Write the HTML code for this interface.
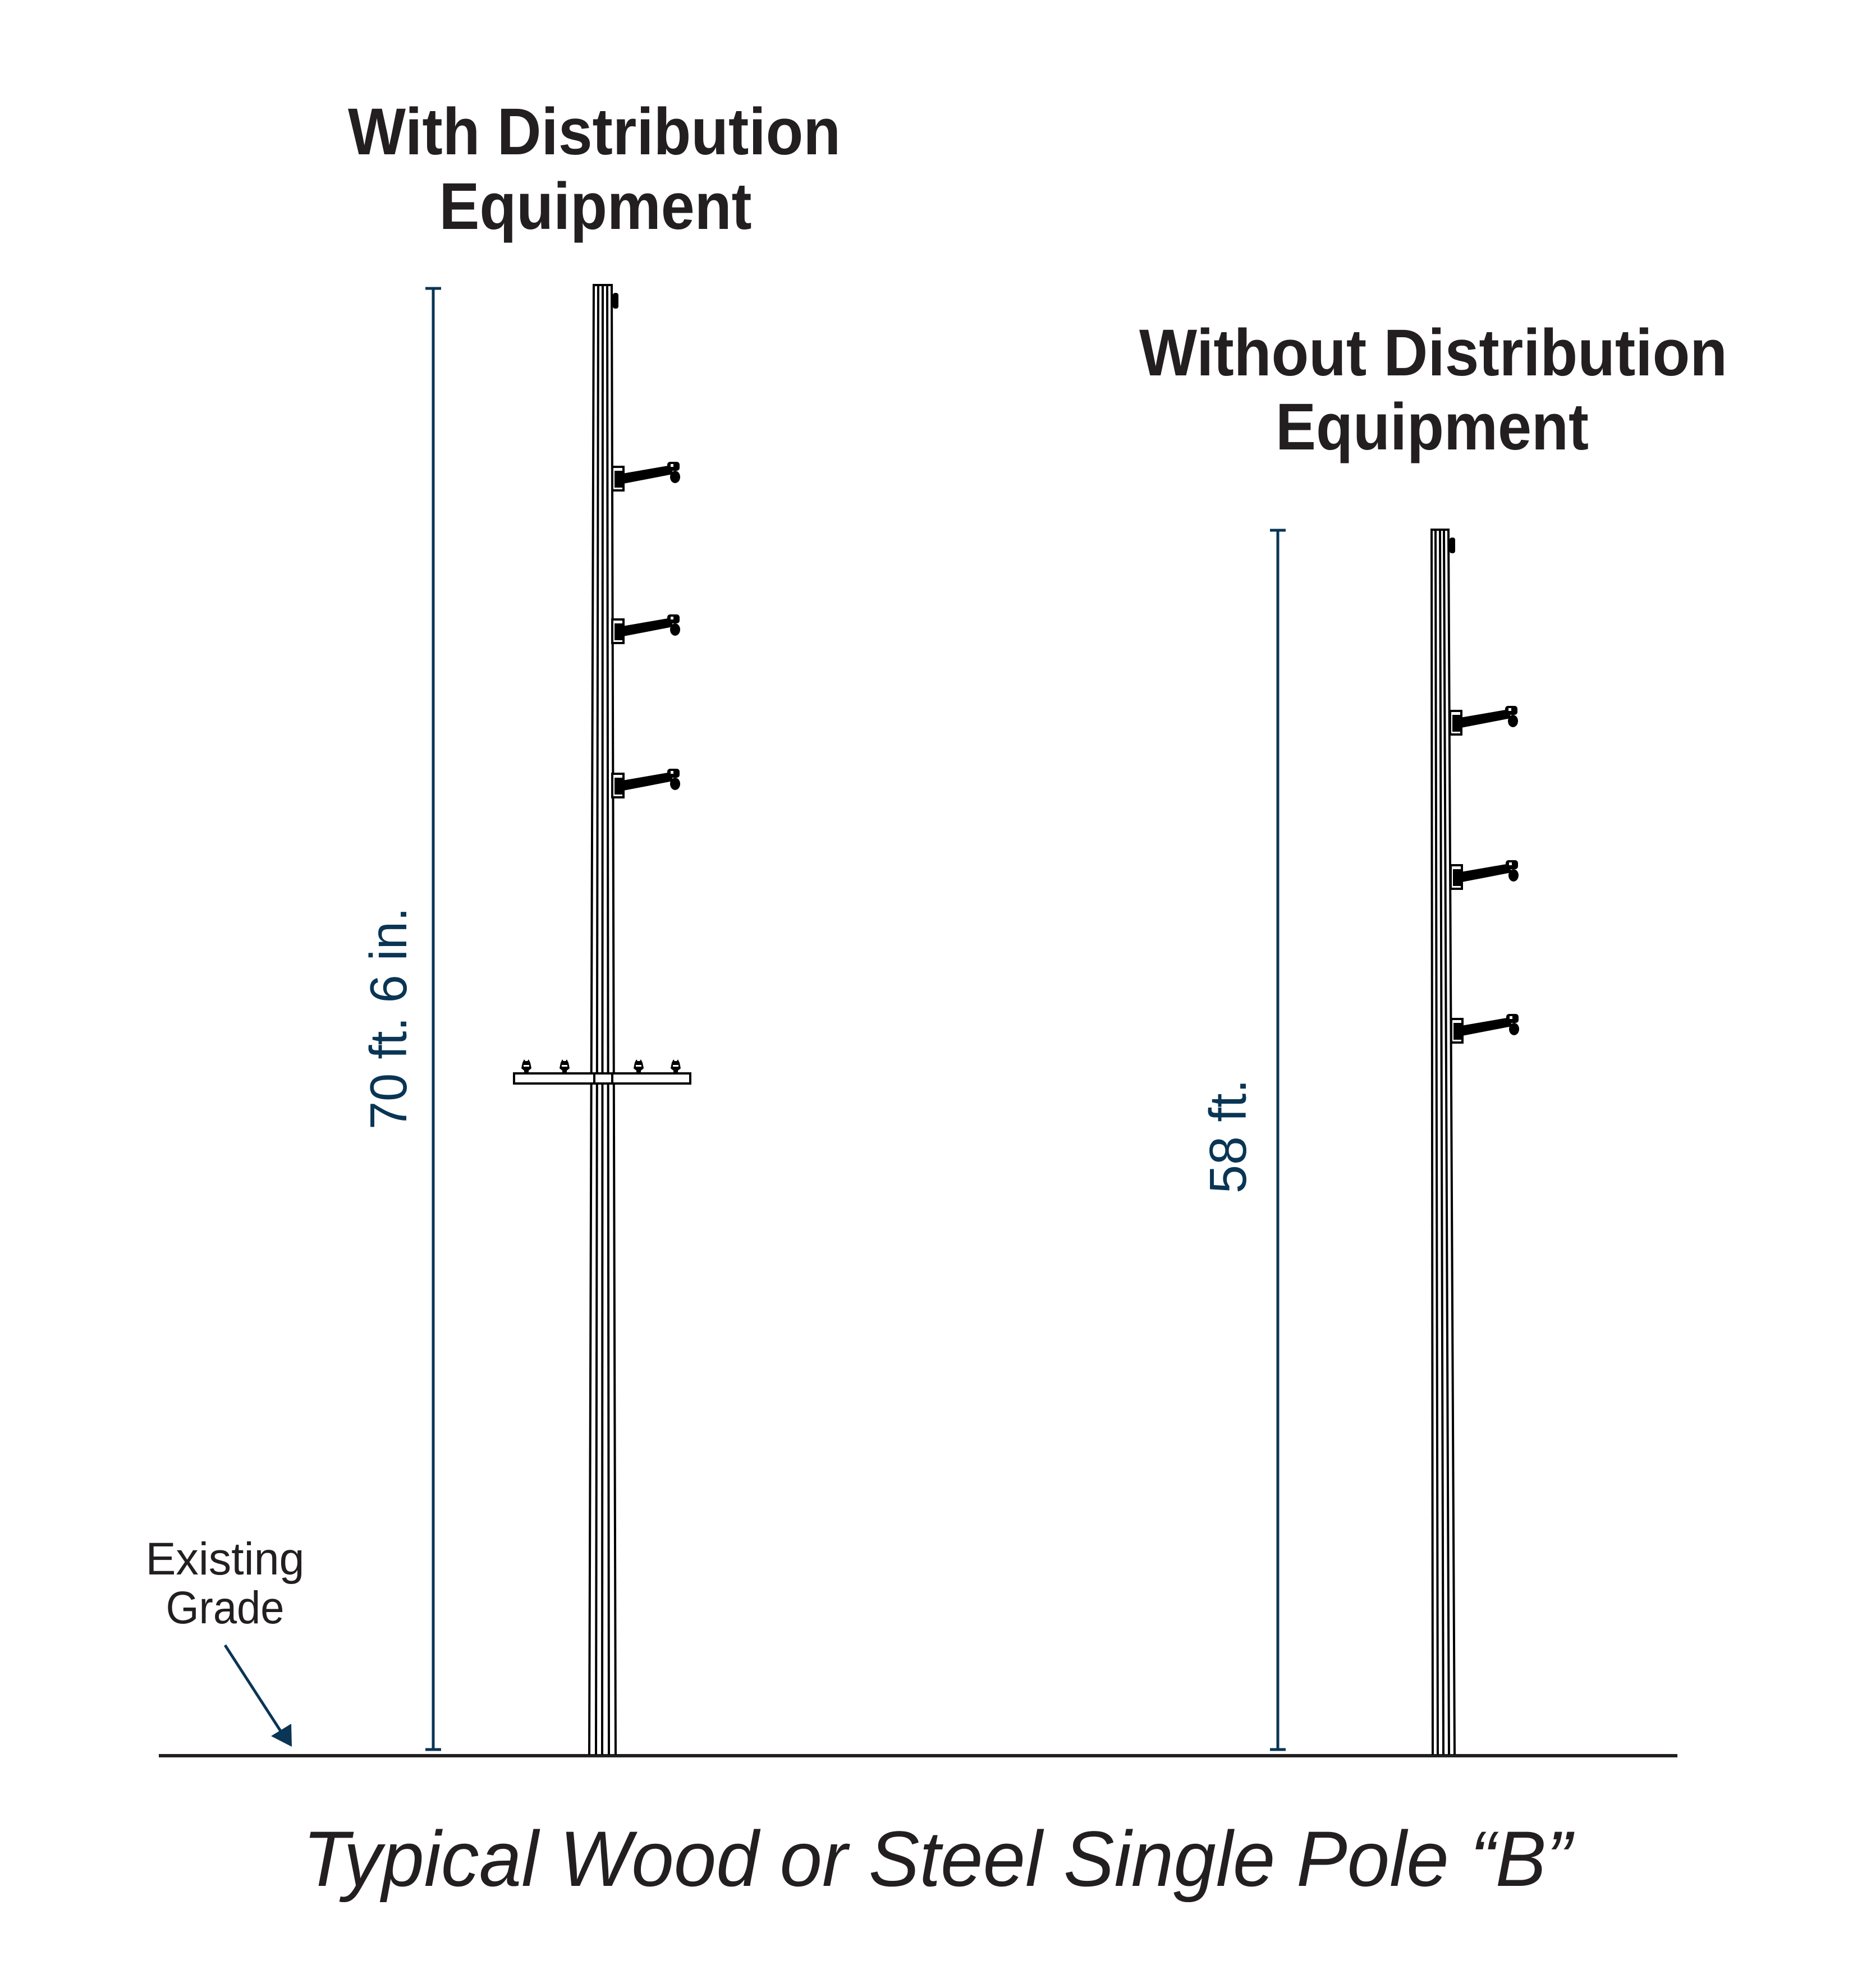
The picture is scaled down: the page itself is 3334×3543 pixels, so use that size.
<!DOCTYPE html>
<html><head><meta charset="utf-8"><style>
html,body{margin:0;padding:0;background:#fff}
svg{display:block}
</style></head><body>
<svg width="3334" height="3543" viewBox="0 0 3334 3543" xmlns="http://www.w3.org/2000/svg">
<defs>
<g id="arm">
  <rect x="0" y="-21" width="20" height="42" fill="#fff" stroke="#000" stroke-width="4"/>
  <rect x="4" y="-14" width="14" height="30" fill="#000"/>
  <polygon points="18,-9 105,-24 108,-8 20,9" fill="#000"/>
  <rect x="98" y="-30" width="22" height="16" rx="5" fill="#000"/>
  <rect x="104" y="-26" width="5" height="5" fill="#fff"/>
  <ellipse cx="112" cy="-3" rx="9" ry="11" fill="#000"/>
</g>
<g id="ins">
  <path d="M-9,0 L-7,-10 L-4,-16 L-2,-13 L2,-13 L4,-16 L7,-10 L9,0 L4,4 L4,7 L10,8 L-10,8 L-4,7 L-4,4 Z" fill="#000"/>
  <rect x="-5" y="-6" width="10" height="3" fill="#fff"/>
</g>
</defs>
<g font-family="'Liberation Sans Narrow','Liberation Sans',sans-serif" font-weight="bold" fill="#231f20" text-anchor="middle">
  <text x="1059" y="275" font-size="118" textLength="878" lengthAdjust="spacingAndGlyphs">With Distribution</text>
  <text x="1061" y="408" font-size="118" textLength="557" lengthAdjust="spacingAndGlyphs">Equipment</text>
  <text x="2554" y="669" font-size="118" textLength="1048" lengthAdjust="spacingAndGlyphs">Without Distribution</text>
  <text x="2552" y="801" font-size="118" textLength="558" lengthAdjust="spacingAndGlyphs">Equipment</text>
</g>
<g font-family="'Liberation Sans',sans-serif" fill="#231f20" text-anchor="middle">
  <text x="401" y="2806" font-size="82" textLength="283" lengthAdjust="spacingAndGlyphs">Existing</text>
  <text x="401" y="2893" font-size="82" textLength="211" lengthAdjust="spacingAndGlyphs">Grade</text>
  <text x="1670" y="3361" font-size="140" font-style="italic" textLength="2261" lengthAdjust="spacingAndGlyphs">Typical Wood or Steel Single Pole “B”</text>
</g>
<g font-family="'Liberation Sans',sans-serif" fill="#0a3554" text-anchor="middle" font-size="93">
  <text transform="translate(724,1815) rotate(-90)" x="0" y="0" textLength="396" lengthAdjust="spacingAndGlyphs">70 ft. 6 in.</text>
  <text transform="translate(2220,2025) rotate(-90)" x="0" y="0" textLength="204" lengthAdjust="spacingAndGlyphs">58 ft.</text>
</g>
<g stroke="#0a3554" stroke-width="5">
  <line x1="772" y1="514" x2="772" y2="3118"/>
  <line x1="758" y1="514" x2="786" y2="514"/>
  <line x1="758" y1="3118" x2="786" y2="3118"/>
  <line x1="2277" y1="945" x2="2277" y2="3118"/>
  <line x1="2263" y1="945" x2="2291" y2="945"/>
  <line x1="2263" y1="3118" x2="2291" y2="3118"/>
  <line x1="401" y1="2932" x2="500" y2="3085"/>
</g>
<polygon points="520,3113 483,3094 519,3072" fill="#0a3554"/>
<rect x="283" y="3126" width="2706" height="6" fill="#231f20"/>
<g stroke="#000" stroke-width="4" fill="none">
  <line x1="1058" y1="507" x2="1050" y2="3127"/>
  <line x1="1066" y1="507" x2="1062" y2="3127"/>
  <line x1="1074" y1="507" x2="1073" y2="3127"/>
  <line x1="1082" y1="507" x2="1085" y2="3127"/>
  <line x1="1090" y1="507" x2="1097" y2="3127"/>
  <line x1="1056" y1="508" x2="1092" y2="508"/>
  <rect x="916" y="1913" width="314" height="18" fill="#fff"/>
  <line x1="1059" y1="1913" x2="1059" y2="1931"/>
  <line x1="1091" y1="1913" x2="1091" y2="1931"/>
</g>
<rect x="1092" y="522" width="10" height="28" rx="4" fill="#000"/>
<use href="#ins" x="938" y="1904"/>
<use href="#ins" x="1006" y="1904"/>
<use href="#ins" x="1138" y="1904"/>
<use href="#ins" x="1204" y="1904"/>
<use href="#arm" x="1091" y="853"/>
<use href="#arm" x="1091" y="1125"/>
<use href="#arm" x="1091" y="1400"/>
<g stroke="#000" stroke-width="4" fill="none">
  <line x1="2551" y1="943" x2="2553" y2="3127"/>
  <line x1="2558" y1="943" x2="2562" y2="3127"/>
  <line x1="2566" y1="943" x2="2572" y2="3127"/>
  <line x1="2573" y1="943" x2="2582" y2="3127"/>
  <line x1="2581" y1="943" x2="2592" y2="3127"/>
  <line x1="2549" y1="944" x2="2583" y2="944"/>
</g>
<rect x="2583" y="958" width="10" height="28" rx="4" fill="#000"/>
<use href="#arm" x="2584" y="1288"/>
<use href="#arm" x="2585" y="1563"/>
<use href="#arm" x="2586" y="1837"/>
</svg>
</body></html>
